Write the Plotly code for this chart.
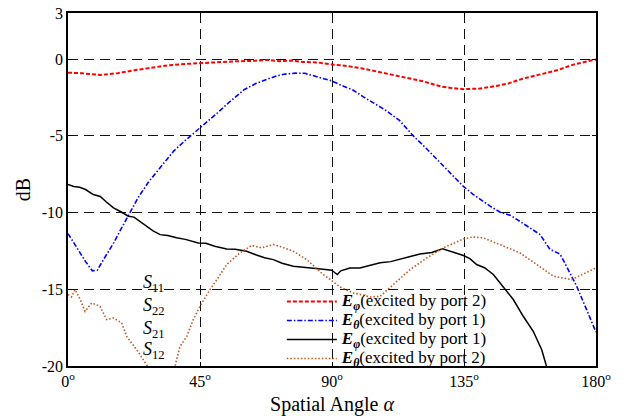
import plotly.graph_objects as go

# Spatial angle (deg) and normalised levels (dB) for each excitation case
ephi_p2_angle = [0, 5, 11, 17, 23, 28, 34, 40, 45, 51, 57, 63, 68, 72, 76, 80, 85, 90,
                 95, 100, 105, 110, 116, 121, 127, 131, 135, 140, 144, 150, 155, 161,
                 167, 172, 176, 180]
ephi_p2_db = [-0.89, -0.93, -1.04, -0.92, -0.72, -0.58, -0.41, -0.32, -0.26, -0.22,
              -0.15, -0.12, -0.06, -0.14, -0.10, -0.19, -0.22, -0.35, -0.45, -0.60,
              -0.80, -1.00, -1.21, -1.45, -1.78, -1.90, -1.96, -1.93, -1.82, -1.60,
              -1.28, -1.00, -0.72, -0.38, -0.20, -0.02]

etheta_p1_angle = [0, 3, 6, 8.3, 10, 12, 15.5, 18, 20.6, 24, 27.5, 31, 34, 36, 40, 45, 48,
                   51, 55, 60, 64, 68, 71, 74, 77.5, 80.7, 84, 87, 90, 93, 97, 101, 104,
                   108, 113, 117.7, 122, 126.8, 131, 134.7, 138, 140.5, 144, 147.3, 151,
                   154, 157.5, 160.9, 164.3, 167.7, 169.4, 171, 173.4, 176.8, 180]
etheta_p1_db = [-11.37, -12.3, -13.2, -13.8, -13.75, -13.1, -12.0, -11.1, -10.2, -9.0,
                -8.0, -7.2, -6.5, -6.0, -5.3, -4.5, -4.0, -3.5, -2.8, -2.0, -1.6, -1.32,
                -1.1, -0.98, -0.92, -0.93, -1.1, -1.3, -1.43, -1.7, -2.0, -2.5, -2.84,
                -3.3, -4.0, -5.0, -5.8, -6.76, -7.6, -8.28, -8.8, -9.15, -9.6, -9.98,
                -10.2, -10.57, -11.0, -11.43, -12.4, -12.7, -13.3, -13.9, -14.8, -16.33,
                -17.8]

ephi_p1_angle = [0, 2, 4, 6, 8.6, 11, 13, 15.5, 18, 20.6, 22.5, 24.5, 27, 29, 31.4, 34,
                 37, 40, 44.4, 47, 50, 54.1, 57, 60.9, 64, 67, 70, 73, 76.8, 80, 83.6, 87,
                 89.9, 91.8, 93, 96.1, 99.5, 103, 106.4, 110, 113.2, 117, 120, 124, 127.7,
                 131, 134.8, 137, 139.3, 142, 145, 148.4, 151.8, 155.2, 158.6, 161.5,
                 163, 164]
ephi_p1_db = [-8.17, -8.3, -8.35, -8.5, -8.83, -8.95, -9.3, -9.7, -9.95, -10.24, -10.3,
              -10.57, -10.9, -11.2, -11.44, -11.5, -11.65, -11.75, -11.98, -12.0, -12.2,
              -12.37, -12.4, -12.52, -12.75, -12.95, -13.07, -13.3, -13.5, -13.55,
              -13.61, -13.7, -13.76, -14.04, -13.8, -13.61, -13.61, -13.45, -13.28,
              -13.2, -13.02, -12.85, -12.7, -12.6, -12.37, -12.55, -12.8, -13.0, -13.39,
              -13.6, -14.04, -14.85, -15.67, -16.76, -17.74, -18.94, -19.9, -20.6]

etheta_p2_angle = [0, 1.2, 2.4, 4, 5.8, 8.1, 10.9, 13.2, 15.5, 18.3, 20, 23.4, 26.8, 28,
                   32, 36, 37, 38.2, 40.5, 42.7, 45, 48.4, 51, 54.1, 58.6, 62.6, 66, 70,
                   73, 76.8, 81.4, 84, 87, 90, 92.7, 97.3, 99.5, 103, 106.4, 110.9, 116.6,
                   122.3, 128, 134.8, 138, 141.6, 147.3, 154.1, 159.8, 165.5, 171.7, 176,
                   180]
etheta_p2_db = [-15.35, -15.5, -15.02, -15.6, -16.44, -15.89, -16.11, -16.98, -16.87,
                -17.2, -18.07, -18.94, -19.92, -20.4, -21.5, -20.4, -19.6, -18.72,
                -18.07, -16.98, -16.11, -15.02, -14.3, -13.39, -12.63, -12.15, -12.3,
                -12.09, -12.25, -12.52, -13.07, -13.5, -14.04, -14.45, -14.85, -15.24,
                -15.35, -15.5, -15.46, -14.7, -13.72, -12.96, -12.3, -11.72, -11.6,
                -11.65, -12.09, -12.63, -13.39, -14.15, -14.37, -14.0, -13.61]

x_tick_vals = [0, 45, 90, 135, 180]
x_tick_text = ["0<sup>o</sup>", "45<sup>o</sup>", "90<sup>o</sup>", "135<sup>o</sup>", "180<sup>o</sup>"]
y_tick_vals = [3, 0, -5, -10, -15, -20]
y_tick_text = ["3", "0", "-5", "-10", "-15", "-20"]

s_labels = ["<i>S</i><sub>11</sub>", "<i>S</i><sub>22</sub>",
            "<i>S</i><sub>21</sub>", "<i>S</i><sub>12</sub>"]
s_label_db = [-14.65, -16.15, -17.6, -19.0]
s_label_angle = 24.8

SERIF = "Times New Roman, Liberation Serif, serif"


def legend_label(component, port):
    # bold-italic field symbol with subscript, followed by the port note
    return ('<span style="font-size:17px"><b><i>E</i></b><sub><b><i>%s</i></b></sub>'
            '(excited by port %d)</span>' % (component, port))


fig = go.Figure()
fig.add_trace(go.Scatter(
    x=ephi_p2_angle, y=ephi_p2_db, mode="lines",
    name=legend_label("φ", 2),
    line=dict(color="#ff0000", width=2, dash="4px,2px")))
fig.add_trace(go.Scatter(
    x=etheta_p1_angle, y=etheta_p1_db, mode="lines",
    name=legend_label("θ", 1),
    line=dict(color="#0000ff", width=1.6, dash="5px,2px,1.5px,2px")))
fig.add_trace(go.Scatter(
    x=ephi_p1_angle, y=ephi_p1_db, mode="lines",
    name=legend_label("φ", 1),
    line=dict(color="#000000", width=1.5)))
fig.add_trace(go.Scatter(
    x=etheta_p2_angle, y=etheta_p2_db, mode="lines",
    name=legend_label("θ", 2),
    line=dict(color="#c0561e", width=1.6, dash="1.5px,2px")))

for txt, yv in zip(s_labels, s_label_db):
    fig.add_annotation(x=s_label_angle, y=yv, xref="x", yref="y", text=txt,
                       showarrow=False, xanchor="left", yanchor="middle",
                       font=dict(family=SERIF, size=18, color="#000000"))

axis_common = dict(
    showline=True, linecolor="#000000", linewidth=1.5, mirror="ticks",
    ticks="inside", ticklen=4, tickcolor="#000000",
    showgrid=True, gridcolor="#111111", gridwidth=1, griddash="10px,6px",
    zeroline=False, automargin=False,
    tickfont=dict(family=SERIF, size=16, color="#000000"),
)

fig.update_xaxes(range=[0, 180], tickmode="array", tickvals=x_tick_vals,
                 ticktext=x_tick_text,
                 title=dict(text="Spatial Angle <i>α</i>", standoff=13,
                            font=dict(family=SERIF, size=20, color="#000000")),
                 **axis_common)
fig.update_yaxes(range=[-20, 3], tickmode="array", tickvals=y_tick_vals,
                 ticktext=y_tick_text,
                 title=dict(text="dB", standoff=6,
                            font=dict(family=SERIF, size=20, color="#000000")),
                 **axis_common)

fig.update_layout(
    width=624, height=416,
    margin=dict(l=68, r=28, t=13, b=50),
    paper_bgcolor="#ffffff", plot_bgcolor="#ffffff",
    font=dict(family=SERIF, color="#000000"),
    showlegend=True,
    legend=dict(x=0.405, y=0.224, xanchor="left", yanchor="top",
                bgcolor="rgba(0,0,0,0)", borderwidth=0,
                font=dict(family=SERIF, size=12, color="#000000"),
                itemwidth=50, tracegroupgap=0),
)

fig.write_html("out.html")
